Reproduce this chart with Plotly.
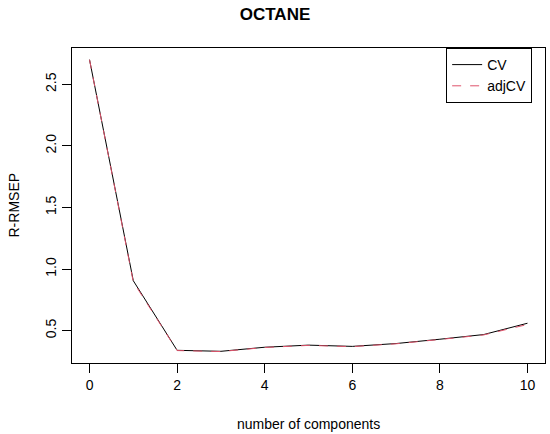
import plotly.graph_objects as go

# Dados
componentes = [0, 1, 2, 3, 4, 5, 6, 7, 8, 9, 10]
cv = [2.70, 0.905, 0.340, 0.332, 0.365, 0.382, 0.372, 0.395, 0.430, 0.468, 0.560]
adj_cv = [2.70, 0.895, 0.338, 0.330, 0.363, 0.380, 0.370, 0.393, 0.428, 0.465, 0.550]

fonte = "Liberation Sans, Arial, sans-serif"

fig = go.Figure()
fig.add_trace(go.Scatter(x=componentes, y=cv, mode="lines", name="CV",
                         line=dict(color="black", width=1)))
fig.add_trace(go.Scatter(x=componentes, y=adj_cv, mode="lines", name="adjCV",
                         line=dict(color="#DF536B", width=1, dash="dash")))

fig.update_layout(
    width=550,
    height=434,
    margin=dict(l=72, r=5, t=48, b=71, autoexpand=False),
    paper_bgcolor="white",
    plot_bgcolor="white",
    font=dict(family=fonte, size=14, color="black"),
    title=dict(text="<b>OCTANE</b>", x=0.5, xanchor="center",
               yref="container", y=0.967, yanchor="middle",
               font=dict(size=17)),
    legend=dict(
        x=0.791, y=1, xanchor="left", yanchor="top",
        bordercolor="black", borderwidth=1, bgcolor="white",
        font=dict(size=14), tracegroupgap=0, itemwidth=30,
    ),
    # Títulos dos eixos como anotações para controlar a posição
    annotations=[
        dict(text="number of components", x=0.5, y=0, xref="paper", yref="paper",
             xanchor="center", yanchor="middle", yshift=-61, showarrow=False,
             font=dict(size=14)),
        dict(text="R-RMSEP", x=0, y=0.5, xref="paper", yref="paper",
             xanchor="center", yanchor="middle", xshift=-59, textangle=-90,
             showarrow=False, font=dict(size=14)),
    ],
)

fig.update_xaxes(
    range=[-0.4, 10.4], tickvals=[0, 2, 4, 6, 8, 10],
    showgrid=False, zeroline=False, automargin=False,
    showline=True, linecolor="black", linewidth=1, mirror=True,
    ticks="outside", ticklen=9, tickcolor="black",
)
fig.update_yaxes(
    range=[0.237, 2.795], tickvals=[0.5, 1.0, 1.5, 2.0, 2.5], tickformat=".1f",
    tickangle=-90,
    showgrid=False, zeroline=False, automargin=False,
    showline=True, linecolor="black", linewidth=1, mirror=True,
    ticks="outside", ticklen=9, tickcolor="black",
)

# Tira a margem padrão do body para a figura ocupar a janela inteira
fig.write_html("out.html", config={"displayModeBar": False},
               post_script="document.body.style.margin = '0';")
